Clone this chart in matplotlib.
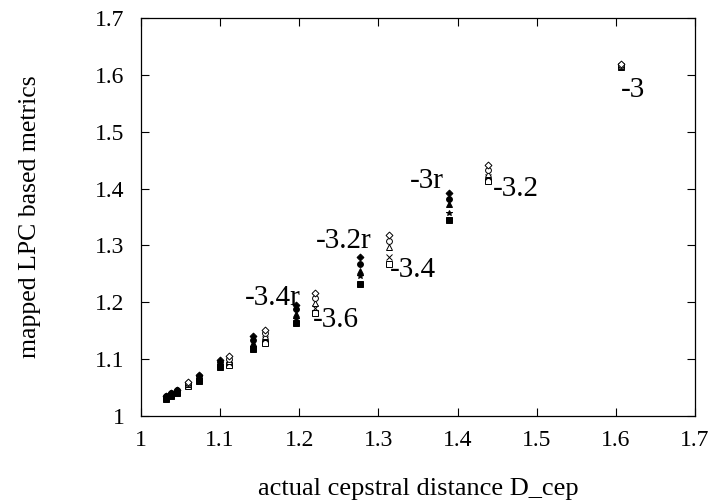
import matplotlib
matplotlib.use('Agg')
import matplotlib.pyplot as plt

plt.rcParams['font.family'] = ['Liberation Serif', 'DejaVu Serif']

# open markers: plain exponent groups
open_x = [1.606, 1.439, 1.3135, 1.22, 1.157, 1.111, 1.059]
open_diamond = [1.619, 1.442, 1.319, 1.216, 1.152, 1.105, 1.060]
open_circle = [1.618, 1.433, 1.307, 1.207, 1.146, 1.101, 1.058]
open_triangle = [1.616, 1.425, 1.298, 1.198, 1.140, 1.097, 1.056]
open_cross = [1.615, 1.420, 1.280, 1.190, 1.135, 1.094, 1.054]
open_square = [1.613, 1.414, 1.268, 1.181, 1.128, 1.090, 1.052]

# filled markers: "r" groups
fill_x = [1.389, 1.277, 1.196, 1.141, 1.0995, 1.073, 1.045, 1.038, 1.031]
fill_diamond = [1.392, 1.279, 1.196, 1.140, 1.098, 1.072, 1.046, 1.041, 1.036]
fill_circle = [1.382, 1.267, 1.188, 1.134, 1.095, 1.070, 1.045, 1.040, 1.035]
fill_triangle = [1.373, 1.255, 1.179, 1.128, 1.092, 1.067, 1.043, 1.038, 1.033]
fill_star = [1.357, 1.246, 1.170, 1.122, 1.089, 1.065, 1.042, 1.037, 1.032]
fill_square = [1.345, 1.233, 1.163, 1.117, 1.086, 1.062, 1.040, 1.035, 1.030]

labels = ['-3', '-3r', '-3.2', '-3.2r', '-3.4', '-3.4r', '-3.6']
label_x = [1.606, 1.340, 1.444, 1.221, 1.314, 1.131, 1.217]
label_y = [1.574, 1.413, 1.399, 1.308, 1.256, 1.208, 1.168]

fig = plt.figure(figsize=(7.09, 5.04), dpi=100)
ax = fig.add_axes([141 / 709, 1 - 416 / 504, 554 / 709, 398 / 504])

ms = 4.2
kw = dict(linestyle='none', markersize=ms, markeredgewidth=0.7, color='black')
ax.plot(open_x, open_square, marker='s', markerfacecolor='white', **kw)
ax.plot(open_x, open_cross, marker='x', **kw)
ax.plot(open_x, open_triangle, marker='^', markerfacecolor='white', **kw)
ax.plot(open_x, open_circle, marker='o', markerfacecolor='white', **kw)
ax.plot(open_x, open_diamond, marker='D', markerfacecolor='white', markersize=ms - 0.7,
        linestyle='none', markeredgewidth=0.7, color='black')

ax.plot(fill_x, fill_square, marker='s', **kw)
ax.plot(fill_x, fill_star, marker='*', **kw)
ax.plot(fill_x, fill_triangle, marker='^', **kw)
ax.plot(fill_x, fill_circle, marker='o', **kw)
ax.plot(fill_x, fill_diamond, marker='D', markersize=ms - 0.7,
        linestyle='none', markeredgewidth=0.7, color='black')

for t, x, y in zip(labels, label_x, label_y):
    ax.text(x, y, t, fontsize=21, ha='left', va='center')

ax.set_xlim(1, 1.7)
ax.set_ylim(1, 1.7)
ticks = [1, 1.1, 1.2, 1.3, 1.4, 1.5, 1.6, 1.7]
ax.set_xticks(ticks)
ax.set_yticks(ticks)
ax.set_xticklabels(['1', '1.1', '1.2', '1.3', '1.4', '1.5', '1.6', '1.7'])
ax.set_yticklabels(['1', '1.1', '1.2', '1.3', '1.4', '1.5', '1.6', '1.7'])
ax.tick_params(direction='in', length=6, width=0.8, top=True, right=True,
               labelsize=17)
ax.tick_params(axis='x', pad=10)
ax.tick_params(axis='y', pad=12)
for s in ax.spines.values():
    s.set_linewidth(0.9)

ax.set_xlabel('actual cepstral distance D_cep', fontsize=19)
ax.set_ylabel('mapped LPC based metrics', fontsize=18.5)
ax.xaxis.set_label_coords(0.5, -0.155)
ax.yaxis.set_label_coords(-0.18, 0.5)

fig.savefig('out.png', dpi=100)
